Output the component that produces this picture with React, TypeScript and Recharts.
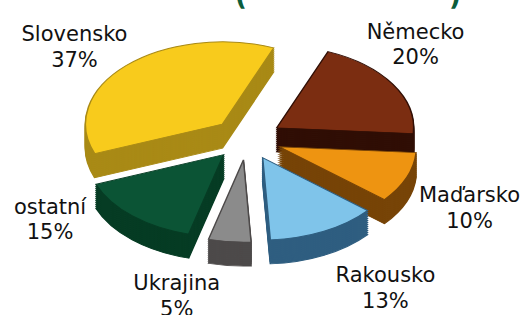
import React from "react";
import { PieChart, Pie, Cell } from "recharts";

// shares of the regions, going counter-clockwise from the upper right edge
const countries = ["Slovensko", "ostatní", "Ukrajina", "Rakousko", "Maďarsko", "Německo"];
const shares = [37, 15, 5, 13, 10, 20];

const topColors = ["#f8cb1c", "#0b5435", "#8b8b8b", "#7fc4ea", "#ee9411", "#7b2d11"];
const sideColors = ["#a98a16", "#063c24", "#4d4a4a", "#2f5e80", "#774407", "#300e05"];

// small hand tweaks for where the labels sit
const labelNudge = [
  [-4, 14],
  [-37, -32],
  [-46, 7],
  [31, 14],
  [0, 12],
  [-35, -16],
];

const data = countries.map((name, i) => ({ name, value: shares[i] }));

const W = 529;
const H = 315;
const TILT = 0.6;
const CX = 247;
const CY = 139;
const R = 137;
const DEPTH = 24;
const EXPLODE = 35;
const START = 68;

const total = shares.reduce((a, b) => a + b, 0);
const midAngles = shares.map((v, i) => {
  const before = shares.slice(0, i).reduce((a, b) => a + b, 0);
  return START + (360 * (before + v / 2)) / total;
});
const RAD = Math.PI / 180;

const renderLabel = (props: any) => {
  const { cx, cy, midAngle, index, name, value } = props;
  const x = cx + 240 * Math.cos(midAngle * RAD) + labelNudge[index][0];
  const y = cy - 150 * Math.sin(midAngle * RAD) + labelNudge[index][1];
  return (
    <text
      x={x}
      y={y - 5}
      textAnchor="middle"
      fontFamily="DejaVu Sans"
      fontSize={21}
      fill="#111"
    >
      <tspan x={x} dy={0}>
        {name}
      </tspan>
      <tspan x={x} dy={25.5}>
        {value}%
      </tspan>
    </text>
  );
};

const sliceLayer = (i: number, drop: number, colors: string[], key: string) => {
  const ox = EXPLODE * Math.cos(midAngles[i] * RAD);
  const oy = -EXPLODE * Math.sin(midAngles[i] * RAD);
  return (
    <Pie
      key={key}
      data={data}
      dataKey="value"
      cx={CX + ox}
      cy={CY / TILT + oy + drop / TILT}
      innerRadius={0}
      outerRadius={R}
      startAngle={START}
      endAngle={START + 360}
      isAnimationActive={false}
      label={false}
      labelLine={false}
    >
      {data.map((_, j) => (
        <Cell
          key={j}
          fill={j === i ? colors[i] : "none"}
          stroke={j === i ? sideColors[i] : "none"}
          strokeWidth={j === i ? 1.5 : 0}
        />
      ))}
    </Pie>
  );
};

const App = () => {
  const layers: React.ReactNode[] = [];
  for (let d = DEPTH; d >= 1; d -= 2) {
    data.forEach((_, i) => layers.push(sliceLayer(i, d, sideColors, `s${i}-${d}`)));
  }
  data.forEach((_, i) => layers.push(sliceLayer(i, 0, topColors, `t${i}`)));

  return (
    <div
      style={{
        position: "absolute",
        left: 0,
        top: 0,
        width: W,
        height: H,
        overflow: "hidden",
        background: "#fff",
      }}
    >
      <svg width={W} height={H} style={{ position: "absolute", left: 0, top: 0 }}>
        <text x={235} y={5} fontFamily="DejaVu Sans" fontWeight="bold" fontSize={26} fill="#0b5d3c">
          (
        </text>
        <text x={449} y={5} fontFamily="DejaVu Sans" fontWeight="bold" fontSize={26} fill="#0b5d3c">
          )
        </text>
      </svg>
      <div
        style={{
          position: "absolute",
          left: 0,
          top: 0,
          transform: `scaleY(${TILT})`,
          transformOrigin: "0 0",
        }}
      >
        <PieChart width={W} height={H / TILT} margin={{ top: 0, right: 0, bottom: 0, left: 0 }}>
          {layers}
        </PieChart>
      </div>
      <div style={{ position: "absolute", left: 0, top: 0 }}>
        <PieChart width={W} height={H} margin={{ top: 0, right: 0, bottom: 0, left: 0 }}>
          <Pie
            data={data}
            dataKey="value"
            cx={CX}
            cy={CY}
            outerRadius={R}
            startAngle={START}
            endAngle={START + 360}
            isAnimationActive={false}
            label={renderLabel}
            labelLine={false}
          >
            {data.map((_, j) => (
              <Cell key={j} fill="none" stroke="none" />
            ))}
          </Pie>
        </PieChart>
      </div>
    </div>
  );
};

export default App;
